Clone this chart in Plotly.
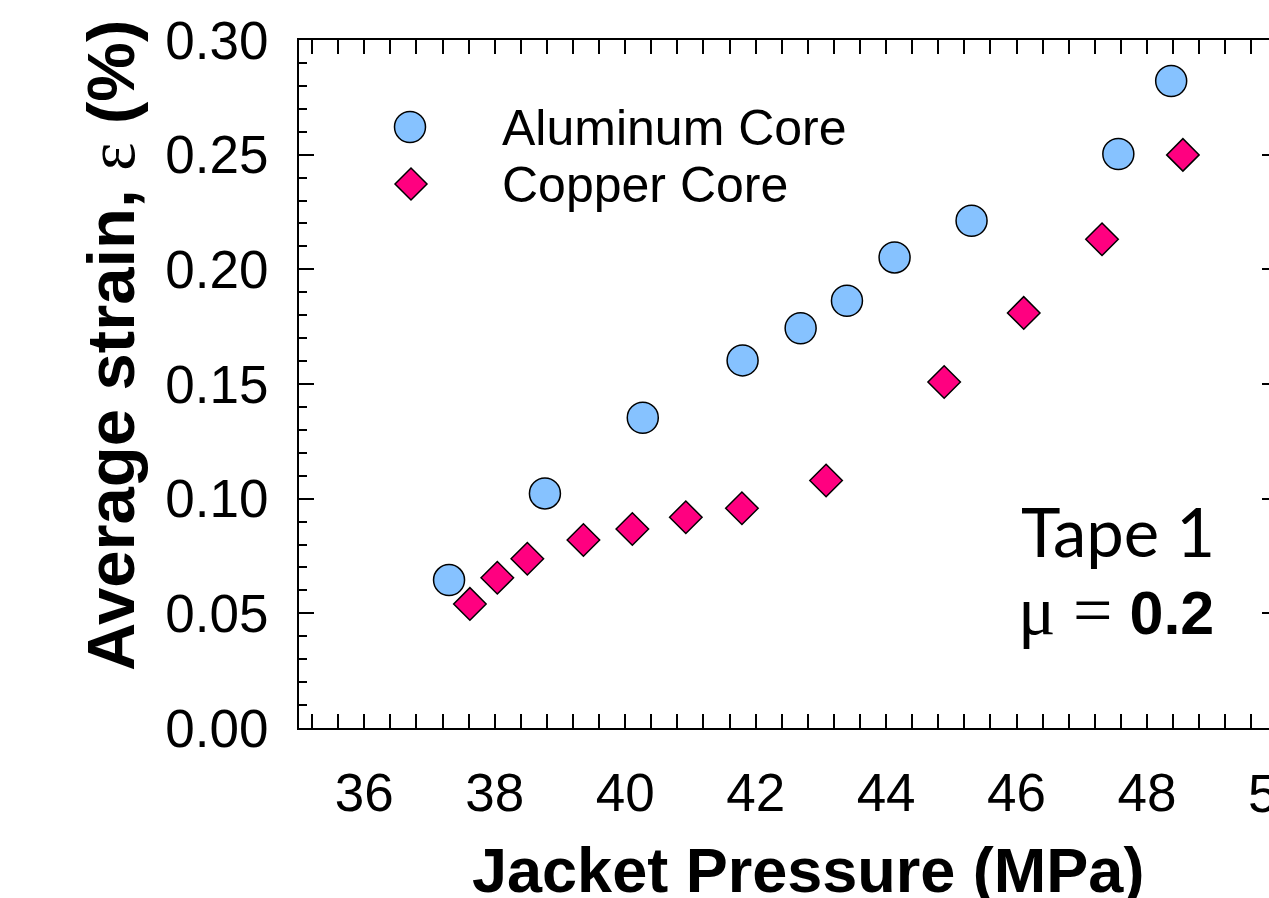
import plotly.graph_objects as go

# ---------------- data ----------------
al_pressure = [37.30, 38.77, 40.27, 41.80, 42.69, 43.40, 44.13, 45.31, 47.56, 48.37]
al_strain = [0.0645, 0.1023, 0.1353, 0.1603, 0.1743, 0.1863, 0.2052, 0.2212, 0.2503, 0.2821]

cu_pressure = [37.62, 38.04, 38.50, 39.36, 40.11, 40.93, 41.79, 43.08, 44.89, 46.11, 47.31, 48.55]
cu_strain = [0.0541, 0.0655, 0.0738, 0.0820, 0.0868, 0.0919, 0.0958, 0.1079, 0.1509, 0.1810, 0.2131, 0.2499]

x_tick_vals = [36, 38, 40, 42, 44, 46, 48]
y_tick_vals = [0.00, 0.05, 0.10, 0.15, 0.20, 0.25, 0.30]
y_tick_text = ["0.00", "0.05", "0.10", "0.15", "0.20", "0.25", "0.30"]
series_names = ["Aluminum Core", "Copper Core"]

# ---------------- layout geometry ----------------
W, H = 1269, 898
L, T, B, R = 299, 40, 170, 0
PW, PH = W - L - R, H - T - B
X_MIN, X_FULL_MAX = 35, 50
FULL_RIGHT_PX = 1277.5  # plot frame in the original extends past the window
px_per_unit = (FULL_RIGHT_PX - L) / (X_FULL_MAX - X_MIN)
X_MAX = X_MIN + PW / px_per_unit

AL_FILL = "#86C2FF"
CU_FILL = "#FF0080"
AX_FONT = "Liberation Sans, Arial, sans-serif"
TICK_SIZE = 53


def px_x(p):
    return (p - L) / PW


def px_y(p):
    return (H - B - p) / PH


fig = go.Figure()

fig.add_trace(go.Scatter(
    x=al_pressure, y=al_strain, mode="markers", name=series_names[0],
    marker=dict(symbol="circle", size=31, color=AL_FILL,
                line=dict(color="black", width=1.5)),
    showlegend=False, cliponaxis=False))

fig.add_trace(go.Scatter(
    x=cu_pressure, y=cu_strain, mode="markers", name=series_names[1],
    marker=dict(symbol="diamond", size=25, color=CU_FILL,
                line=dict(color="black", width=1.5)),
    showlegend=False, cliponaxis=False))

# empty trace to attach the right-hand tick axis
fig.add_trace(go.Scatter(x=[], y=[], yaxis="y2", showlegend=False, hoverinfo="skip"))

axis_common = dict(showgrid=False, zeroline=False, showline=True,
                   linecolor="black", linewidth=2, ticks="inside",
                   tickcolor="black", tickwidth=1.8)

fig.update_layout(
    width=W, height=H,
    margin=dict(l=L, r=R, t=T, b=B, pad=0),
    paper_bgcolor="white", plot_bgcolor="white",
    showlegend=False,
    xaxis=dict(
        range=[X_MIN, X_MAX], tickmode="array", tickvals=x_tick_vals,
        ticktext=[str(v) for v in x_tick_vals],
        ticklen=14, mirror="allticks",
        tickfont=dict(family=AX_FONT, size=TICK_SIZE, color="black"),
        ticklabelstandoff=17,
        minor=dict(dtick=0.4, tick0=36, ticks="inside", ticklen=8,
                   tickcolor="black", tickwidth=1.8),
        **axis_common),
    yaxis=dict(
        range=[0, 0.30], tickmode="array", tickvals=y_tick_vals,
        ticktext=y_tick_text, ticklen=15, mirror=False,
        tickfont=dict(family=AX_FONT, size=TICK_SIZE, color="black"),
        ticklabelstandoff=18,
        minor=dict(dtick=0.01, tick0=0, ticks="inside", ticklen=8,
                   tickcolor="black", tickwidth=1.8),
        **axis_common),
    yaxis2=dict(
        range=[0, 0.30], overlaying="y", side="right", tickmode="array",
        tickvals=y_tick_vals, ticks="inside", ticklen=7, tickwidth=1.8,
        tickcolor="black", showticklabels=False, showline=False,
        showgrid=False, zeroline=False),
)

annotations = []
# partially visible "50" tick label at the clipped right edge
annotations.append(dict(
    x=(X_FULL_MAX - X_MIN) * px_per_unit / PW, y=px_y(793), xref="paper", yref="paper",
    text=str(X_FULL_MAX), showarrow=False, xanchor="center", yanchor="middle",
    font=dict(family=AX_FONT, size=TICK_SIZE, color="black")))

# axis titles
annotations.append(dict(
    x=px_x(808), y=px_y(870), xref="paper", yref="paper",
    text="<b>Jacket Pressure (MPa)</b>", showarrow=False,
    xanchor="center", yanchor="middle",
    font=dict(family=AX_FONT, size=63, color="black")))
annotations.append(dict(
    x=px_x(110), y=px_y(346), xref="paper", yref="paper",
    text="<b>Average strain, </b><span style=\"font-family:'Liberation Serif'\">ε</span><b> (%)</b>",
    textangle=-90, showarrow=False, xanchor="center", yanchor="middle",
    font=dict(family=AX_FONT, size=67, color="black")))

# legend text
annotations.append(dict(
    x=px_x(500), y=px_y(128), xref="paper", yref="paper",
    text=series_names[0], showarrow=False, xanchor="left", yanchor="middle",
    font=dict(family=AX_FONT, size=50, color="black")))
annotations.append(dict(
    x=px_x(500), y=px_y(185), xref="paper", yref="paper",
    text=series_names[1], showarrow=False, xanchor="left", yanchor="middle",
    font=dict(family=AX_FONT, size=50, color="black")))

# sample label
annotations.append(dict(
    x=px_x(1217), y=px_y(531), xref="paper", yref="paper",
    text="Tape 1", showarrow=False, xanchor="right", yanchor="middle",
    font=dict(family="Lato, sans-serif", size=67, color="black")))
annotations.append(dict(
    x=px_x(1216), y=px_y(610), xref="paper", yref="paper",
    text="<span style=\"font-family:'Liberation Serif';font-size:70px\">μ =</span> <b>0.2</b>",
    showarrow=False, xanchor="right", yanchor="middle",
    font=dict(family=AX_FONT, size=61, color="black")))

fig.update_layout(annotations=annotations)

# legend keys
shapes = [
    dict(type="circle", xref="paper", yref="paper", xsizemode="pixel", ysizemode="pixel",
         xanchor=px_x(410), yanchor=px_y(127), x0=-15.5, x1=15.5, y0=-15.5, y1=15.5,
         fillcolor=AL_FILL, line=dict(color="black", width=1.5)),
    dict(type="path", xref="paper", yref="paper", xsizemode="pixel", ysizemode="pixel",
         xanchor=px_x(411), yanchor=px_y(184),
         path="M -16 0 L 0 16 L 16 0 L 0 -16 Z",
         fillcolor=CU_FILL, line=dict(color="black", width=1.5)),
]
fig.update_layout(shapes=shapes)

fig.write_html("out.html")
